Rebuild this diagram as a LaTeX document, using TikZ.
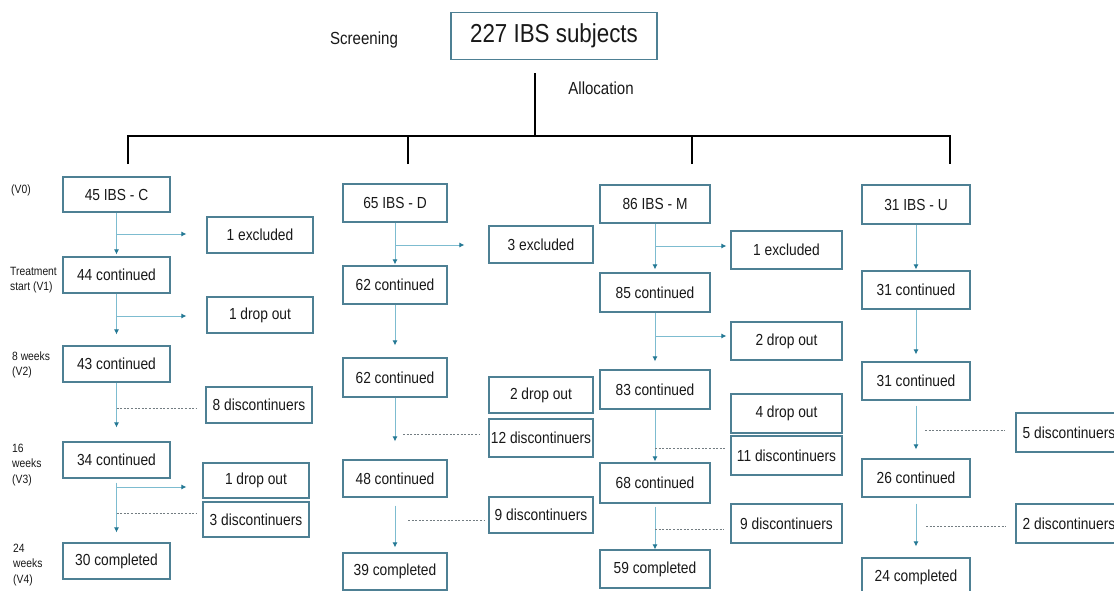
\documentclass[tikz,border=0pt]{standalone}
\usepackage{fontspec}
\setmainfont{Liberation Sans}[FakeStretch=0.86]
\usetikzlibrary{arrows.meta}
\definecolor{boxc}{RGB}{78,128,148}
\definecolor{linec}{RGB}{125,188,208}
\definecolor{tipc}{RGB}{35,120,148}
\definecolor{dotc}{RGB}{115,125,130}
\definecolor{txt}{RGB}{25,25,25}
\tikzset{
  bx/.style={draw=boxc, line width=1.2pt, inner sep=0pt, text=txt,
    font=\fontsize{16}{19}\selectfont, minimum height=#1},
  bx/.default=36pt,
  cw/.style={minimum width=107pt},
  dw/.style={minimum width=104pt},
  mw/.style={minimum width=110pt},
  uw/.style={minimum width=108pt},
  topbox/.style={draw=boxc, line width=1.8pt, inner sep=0pt, text=txt,
    minimum width=206pt, minimum height=47pt, font=\fontsize{26}{30}\selectfont},
  lbl/.style={text=txt, inner sep=0pt, font=\fontsize{17.5}{20}\selectfont},
  vlbl/.style={text=txt, inner sep=0pt, anchor=west, align=left,
    font=\fontsize{12}{15.3}\selectfont},
  arr/.style={draw=linec, line width=0.9pt, -{Latex[length=5pt,width=5pt,color=tipc]}},
  dotl/.style={draw=dotc, line width=1pt, dash pattern=on 2pt off 1.6pt},
  tree/.style={draw=black, line width=1.6pt}
}
\begin{document}
\begin{tikzpicture}[x=1pt,y=-1pt]
\useasboundingbox (0,0) rectangle (1114,590);
\fill[white] (0,0) rectangle (1114,590);
\clip (0,0) rectangle (1114,590);

% top
\node[topbox] (top) at (554,36) {227 IBS subjects};
\node[lbl] (scr) at (364,40) {Screening};
\node[lbl] (alloc) at (601,88) {Allocation};
\coordinate (a1) at (535,73);
\coordinate (a2) at (535,136);
\coordinate (dC) at (128,164);
\coordinate (dD) at (408,164);
\coordinate (dM) at (692,164);
\coordinate (dU) at (950,164);
\draw[tree] (a1) -- (a2);
\draw[tree] (dC) |- (dU |- a2) -- (dU);
\draw[tree] (dD) -- (dD |- a2);
\draw[tree] (dM) -- (dM |- a2);

% left labels
\node[vlbl] (v0) at (11,190) {(V0)};
\node[vlbl] (v1) at (10,280) {Treatment\\start (V1)};
\node[vlbl] (v2) at (12,365) {8 weeks\\(V2)};
\node[vlbl] (v3) at (12,465) {16\\weeks\\(V3)};
\node[vlbl] (v4) at (13,565) {24\\weeks\\(V4)};

% column C
\node[bx=35pt,cw] (c0) at (116.5,194.5) {45 IBS - C};
\node[bx,cw] (c1) at (116.5,275) {44 continued};
\node[bx,cw] (c2) at (116.5,364) {43 continued};
\node[bx,cw] (c3) at (116.5,460) {34 continued};
\node[bx,cw] (c4) at (116.5,561) {30 completed};
\node[bx,minimum width=106pt] (ce1) at (260,235) {1 excluded};
\node[bx,minimum width=106pt] (cd1) at (260,315) {1 drop out};
\node[bx,minimum width=106pt] (cdis1) at (259,405) {8 discontinuers};
\node[bx=35pt,minimum width=106pt] (cd2) at (256,480.5) {1 drop out};
\node[bx=35pt,minimum width=106pt] (cdis2) at (256,519.5) {3 discontinuers};
\draw[arr,shorten >=2pt] (c0) -- (c1);
\draw[arr,shorten >=11pt] (c1) -- (c2);
\draw[arr,shorten >=14pt] (c2) -- (c3);
\draw[arr,shorten <=4pt,shorten >=10pt] (c3) -- (c4);
\coordinate (cb1) at (116.5,234);
\coordinate (cb2) at (116.5,316);
\coordinate (cb3) at (116.5,487);
\coordinate (ck1) at (116.5,408);
\coordinate (ck2) at (116.5,513);
\draw[arr,shorten >=20pt] (cb1) -- (ce1.west |- cb1);
\draw[arr,shorten >=20pt] (cb2) -- (cd1.west |- cb2);
\draw[arr,shorten >=16pt] (cb3) -- (cd2.west |- cb3);
\draw[dotl,shorten >=9pt] (ck1) -- (cdis1.west |- ck1);
\draw[dotl,shorten >=6pt] (ck2) -- (cdis2.west |- ck2);

% column D
\node[bx=38pt,dw] (d0) at (395,203) {65 IBS - D};
\node[bx=38pt,dw] (d1) at (395,285) {62 continued};
\node[bx=39pt,dw] (d2) at (395,377.5) {62 continued};
\node[bx=37pt,dw] (d3) at (395,478.5) {48 continued};
\node[bx=37pt,dw] (d4) at (395,571.5) {39 completed};
\node[bx=37pt,dw] (de1) at (541,244.5) {3 excluded};
\node[bx=36pt,dw] (dd1) at (541,395) {2 drop out};
\node[bx=38pt,dw] (ddis1) at (541,438) {12 discontinuers};
\node[bx=36pt,dw] (ddis2) at (541,515) {9 discontinuers};
\draw[arr,shorten >=1pt] (d0) -- (d1);
\draw[arr,shorten >=12pt] (d1) -- (d2);
\draw[arr,shorten >=18pt] (d2) -- (d3);
\draw[arr,shorten <=8pt,shorten >=5pt] (d3) -- (d4);
\coordinate (db1) at (395,245);
\coordinate (dk1) at (395,434);
\coordinate (dk2) at (395,520);
\draw[arr,shorten >=24pt] (db1) -- (de1.west |- db1);
\draw[dotl,shorten <=8pt,shorten >=9pt] (dk1) -- (ddis1.west |- dk1);
\draw[dotl,shorten <=13pt,shorten >=3pt] (dk2) -- (ddis2.west |- dk2);

% column M
\node[bx=38pt,mw] (m0) at (655,204) {86 IBS - M};
\node[bx=39pt,mw] (m1) at (655,292.5) {85 continued};
\node[bx=39pt,mw] (m2) at (655,389.5) {83 continued};
\node[bx=40pt,mw] (m3) at (655,483) {68 continued};
\node[bx=38pt,mw] (m4) at (655,569) {59 completed};
\node[bx=38pt,minimum width=111pt] (me1) at (786.5,250) {1 excluded};
\node[bx=38pt,minimum width=111pt] (md1) at (786.5,341) {2 drop out};
\node[bx=39pt,minimum width=111pt] (md2) at (786.5,413.5) {4 drop out};
\node[bx=39pt,minimum width=111pt] (mdis1) at (786.5,455.5) {11 discontinuers};
\node[bx=39pt,minimum width=111pt] (mdis2) at (786.5,523.5) {9 discontinuers};
\draw[arr,shorten >=3pt] (m0) -- (m1);
\draw[arr,shorten >=8pt] (m1) -- (m2);
\draw[arr,shorten >=1pt] (m2) -- (m3);
\draw[arr,shorten <=3pt] (m3) -- (m4);
\coordinate (mb1) at (655,246);
\coordinate (mb2) at (655,336);
\coordinate (mk1) at (655,448);
\coordinate (mk2) at (655,529);
\draw[arr,shorten >=4pt] (mb1) -- (me1.west |- mb1);
\draw[arr,shorten >=4pt] (mb2) -- (md1.west |- mb2);
\draw[dotl,shorten >=5pt] (mk1) -- (mdis1.west |- mk1);
\draw[dotl,shorten >=6pt] (mk2) -- (mdis2.west |- mk2);

% column U
\node[bx=39pt,uw] (u0) at (916,204.5) {31 IBS - U};
\node[bx=38pt,uw] (u1) at (916,290) {31 continued};
\node[bx=38pt,uw] (u2) at (916,381) {31 continued};
\node[bx=38pt,uw] (u3) at (916,478) {26 continued};
\node[bx=39pt,uw] (u4) at (916,577.5) {24 completed};
\node[bx=39pt,minimum width=106pt] (udis1) at (1069,432.5) {5 discontinuers};
\node[bx=39pt,minimum width=106pt] (udis2) at (1069,523.5) {2 discontinuers};
\draw[arr,shorten >=1pt] (u0) -- (u1);
\draw[arr,shorten >=7pt] (u1) -- (u2);
\draw[arr,shorten <=5pt,shorten >=9pt] (u2) -- (u3);
\draw[arr,shorten <=6pt,shorten >=11pt] (u3) -- (u4);
\coordinate (uk1) at (916,430);
\coordinate (uk2) at (916,526);
\draw[dotl,shorten <=9pt,shorten >=11pt] (uk1) -- (udis1.west |- uk1);
\draw[dotl,shorten <=10pt,shorten >=9pt] (uk2) -- (udis2.west |- uk2);
\end{tikzpicture}
\end{document}
